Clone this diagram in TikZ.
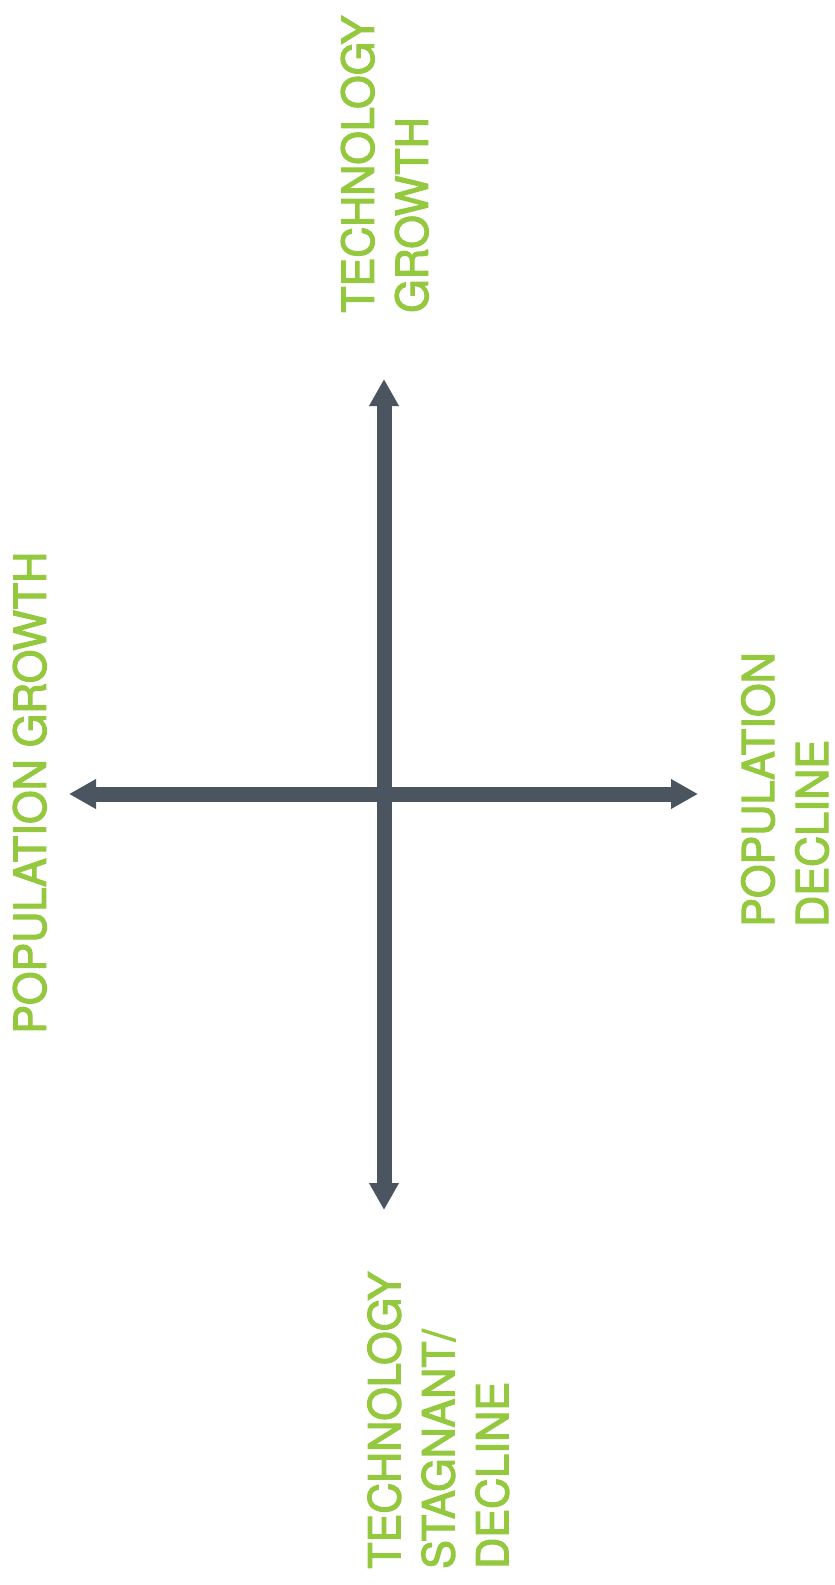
\documentclass[tikz,border=0pt]{standalone}
\usepackage{fontspec}
\newfontfamily\lblfont{TeX Gyre Heros}[FakeStretch=0.98,FakeBold=2.5]
\usetikzlibrary{arrows.meta}
\definecolor{axisgray}{HTML}{4A555F}
\definecolor{labelgreen}{RGB}{148,200,62}
\begin{document}
\begin{tikzpicture}[x=1pt,y=-1pt,
  axis/.style={draw=axisgray,line width=15pt,
    {Triangle[length=27pt,width=28pt]}-{Triangle[length=27pt,width=28pt]}},
  lbl/.style={text=labelgreen,inner sep=0pt,rotate=90,anchor=north west,align=left,
    font=\lblfont\fontsize{44}{54}\selectfont}]
\useasboundingbox (0,0) rectangle (835,1585);
\coordinate (T) at (384,379);
\coordinate (B) at (384,1210);
\coordinate (L) at (69,794);
\coordinate (R) at (698,794);
\draw[axis] (T) -- (B);
\draw[axis] (L) -- (R);
\node[lbl] (tg) at (340.7,313) {TECHNOLOGY\\GROWTH};
\node[lbl] (pg) at (12.7,1034) {POPULATION GROWTH};
\node[lbl] (pd) at (741,927) {POPULATION\\DECLINE};
\node[lbl] (ts) at (367.3,1569) {TECHNOLOGY\\STAGNANT/\\DECLINE};
\end{tikzpicture}
\end{document}
